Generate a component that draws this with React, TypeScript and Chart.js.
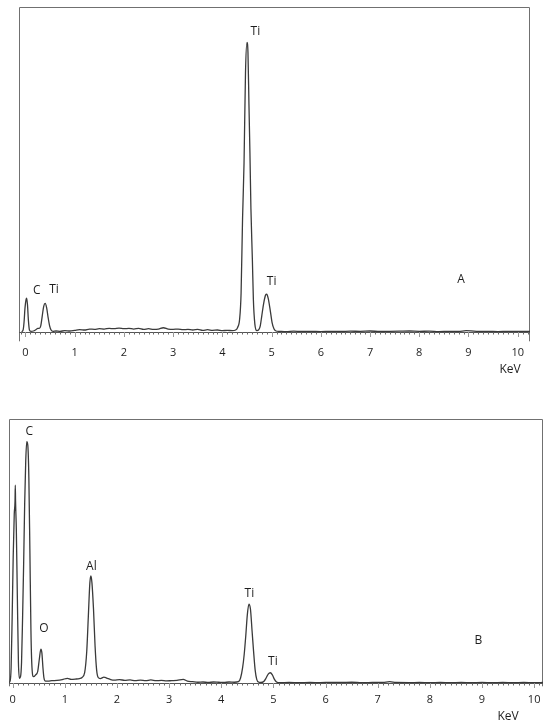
import React, { useEffect, useRef } from "react";
import { Chart, registerables } from "chart.js";

Chart.register(...registerables);

// ---------- DATA ----------
const xTickValues = [0, 1, 2, 3, 4, 5, 6, 7, 8, 9, 10];

// Panel A spectrum: [energy keV, counts (% of full scale)]
const spectrumA: [number, number][] = [
  [-0.08, 0.2], [-0.05, 0.6], [-0.03, 3], [-0.01, 7.5], [0.01, 10], [0.024, 10.5], [0.04, 8.5],
  [0.06, 3.5], [0.08, 0.7], [0.11, 0.3], [0.16, 0.4], [0.21, 0.8], [0.25, 1.2], [0.28, 1.2],
  [0.31, 2.0], [0.34, 5], [0.37, 8], [0.4, 8.9], [0.43, 7.5], [0.46, 4.5], [0.49, 2], [0.52, 0.7],
  [0.56, 0.3], [0.62, 0.4], [0.7, 0.3], [0.8, 0.5], [0.9, 0.4], [1.0, 0.6], [1.1, 0.8], [1.2, 0.7],
  [1.3, 1.0], [1.4, 0.9], [1.5, 1.1], [1.6, 1.0], [1.7, 1.2], [1.8, 1.1], [1.9, 1.3], [2.0, 1.1],
  [2.1, 1.2], [2.2, 1.0], [2.3, 1.2], [2.4, 0.9], [2.5, 1.1], [2.6, 0.9], [2.7, 1.0], [2.8, 1.4],
  [2.9, 1.0], [3.0, 0.9], [3.1, 1.0], [3.2, 0.8], [3.3, 0.9], [3.4, 0.7], [3.5, 0.9], [3.6, 0.6],
  [3.7, 0.8], [3.8, 0.6], [3.9, 0.7], [4.0, 0.5], [4.1, 0.6], [4.2, 0.5], [4.27, 0.7], [4.31, 1.5],
  [4.35, 4], [4.38, 12], [4.41, 35], [4.44, 52], [4.47, 80], [4.5, 89.1], [4.52, 86], [4.54, 70],
  [4.56, 55], [4.58, 38], [4.61, 22], [4.63, 10], [4.66, 2.5], [4.7, 0.5], [4.74, 0.8], [4.77, 2],
  [4.8, 5], [4.84, 9], [4.88, 11.5], [4.9, 11.7], [4.93, 10.5], [4.97, 7], [5.01, 3], [5.05, 1],
  [5.09, 0.4], [5.15, 0.3], [5.3, 0.2], [5.45, 0.35], [5.6, 0.25], [5.8, 0.3], [6.0, 0.2],
  [6.2, 0.3], [6.4, 0.25], [6.6, 0.35], [6.8, 0.3], [7.0, 0.4], [7.2, 0.25], [7.4, 0.3],
  [7.6, 0.35], [7.8, 0.4], [8.0, 0.3], [8.2, 0.35], [8.4, 0.2], [8.6, 0.3], [8.8, 0.25],
  [8.95, 0.5], [9.05, 0.45], [9.2, 0.25], [9.4, 0.3], [9.6, 0.2], [9.8, 0.3], [10.0, 0.25], [10.25, 0.3],
];

// Panel B spectrum: [energy keV, counts (% of full scale)]
const spectrumB: [number, number][] = [
  [-0.07, 0.3], [-0.05, 0.8], [-0.03, 6], [-0.01, 25], [0.01, 48], [0.03, 64], [0.045, 69], [0.05, 75],
  [0.055, 69], [0.07, 58], [0.09, 32], [0.11, 8], [0.13, 1.9], [0.15, 2.5], [0.17, 8], [0.19, 25],
  [0.21, 45], [0.23, 68], [0.25, 84], [0.27, 91.4], [0.29, 90], [0.31, 78], [0.33, 50], [0.35, 20],
  [0.37, 6], [0.4, 2.5], [0.44, 3.2], [0.48, 4.5], [0.51, 9], [0.54, 12.9], [0.56, 11.5], [0.58, 6],
  [0.6, 2], [0.63, 0.8], [0.68, 0.8], [0.75, 1.0], [0.85, 1.1], [0.95, 1.4], [1.05, 1.9], [1.12, 1.5],
  [1.2, 1.6], [1.28, 1.8], [1.33, 2.2], [1.38, 4], [1.42, 12], [1.45, 25], [1.48, 38], [1.5, 40.6],
  [1.52, 38], [1.55, 28], [1.58, 14], [1.61, 5], [1.64, 2.2], [1.68, 1.8], [1.75, 2.3], [1.8, 2.0],
  [1.88, 1.4], [1.95, 1.2], [2.05, 1.4], [2.15, 1.1], [2.25, 1.3], [2.35, 1.0], [2.45, 1.2],
  [2.55, 1.0], [2.65, 1.3], [2.75, 1.0], [2.85, 1.1], [2.95, 0.9], [3.05, 1.0], [3.15, 1.1],
  [3.27, 1.5], [3.35, 0.8], [3.45, 0.6], [3.55, 0.4], [3.65, 0.5], [3.75, 0.3], [3.85, 0.5],
  [3.95, 0.4], [4.05, 0.3], [4.15, 0.5], [4.25, 0.4], [4.33, 0.6], [4.37, 2], [4.41, 6], [4.44, 11],
  [4.47, 18], [4.5, 26], [4.53, 29.9], [4.56, 28], [4.59, 20], [4.62, 12], [4.65, 5], [4.68, 1.5],
  [4.72, 0.4], [4.76, 0.3], [4.82, 0.8], [4.86, 2], [4.9, 3.5], [4.94, 4.0], [4.98, 3.2], [5.02, 1.5],
  [5.06, 0.5], [5.12, 0.2], [5.3, 0.3], [5.5, 0.2], [5.7, 0.3], [5.9, 0.25], [6.1, 0.35], [6.3, 0.3],
  [6.5, 0.4], [6.7, 0.25], [6.9, 0.3], [7.1, 0.35], [7.23, 0.6], [7.35, 0.3], [7.6, 0.25], [7.8, 0.3],
  [8.0, 0.2], [8.2, 0.3], [8.4, 0.25], [8.6, 0.3], [8.8, 0.2], [9.0, 0.3], [9.2, 0.25], [9.4, 0.3],
  [9.6, 0.2], [9.8, 0.3], [10.0, 0.25], [10.17, 0.3],
];

// Element labels: [text, keV, counts]
const labelsA: [string, number, number][] = [
  ["C", 0.23, 12.7],
  ["Ti", 0.58, 13.2],
  ["Ti", 4.67, 92.4],
  ["Ti", 5.0, 15.5],
  ["A", 8.85, 16.3],
];
const labelsB: [string, number, number][] = [
  ["C", 0.32, 95.2],
  ["O", 0.6, 20.8],
  ["Al", 1.51, 44.1],
  ["Ti", 4.54, 34.1],
  ["Ti", 4.99, 8.4],
  ["B", 8.93, 16.1],
];
const axisUnit = "KeV";

// ---------- PANEL LAYOUT ----------
type Panel = {
  data: [number, number][];
  labels: [string, number, number][];
  width: number;
  height: number;
  xMin: number;
  xMax: number;
  padLeft: number;
  padRight: number;
  padTop: number;
  baseline: number;
  tickPad: number;
  borderExt: number;
  unitX: number;
  unitY: number;
};

const FONT = '"Open Sans", "DejaVu Sans", sans-serif';

const framePlugin = {
  id: "edsFrame",
  beforeDatasetsDraw(chart: any, _args: any, opts: any) {
    const { ctx, chartArea } = chart;
    const { left, right, top, bottom } = chartArea;
    const xs = chart.scales.x;
    ctx.save();
    ctx.strokeStyle = "#707070";
    ctx.lineWidth = 1;
    ctx.beginPath();
    ctx.moveTo(Math.round(left) + 0.5, bottom + opts.ext);
    ctx.lineTo(Math.round(left) + 0.5, Math.round(top) + 0.5);
    ctx.lineTo(Math.round(right) - 0.5, Math.round(top) + 0.5);
    ctx.lineTo(Math.round(right) - 0.5, bottom + opts.ext);
    ctx.stroke();
    // axis line
    ctx.strokeStyle = "#555";
    ctx.beginPath();
    ctx.moveTo(left, Math.round(bottom) + 0.5);
    ctx.lineTo(right, Math.round(bottom) + 0.5);
    ctx.stroke();
    // minor / major ticks
    for (let i = -2; i <= 105; i++) {
      const v = i / 10;
      const px = xs.getPixelForValue(v);
      if (px <= left + 1 || px >= right - 1) continue;
      const major = i % 10 === 0;
      ctx.strokeStyle = major ? "#999" : "#666";
      ctx.beginPath();
      ctx.moveTo(Math.round(px) + 0.5, Math.round(bottom));
      ctx.lineTo(Math.round(px) + 0.5, Math.round(bottom) + (major ? 5 : 2.5));
      ctx.stroke();
    }
    ctx.restore();
  },
  afterDatasetsDraw(chart: any, _args: any, opts: any) {
    const { ctx } = chart;
    const xs = chart.scales.x;
    const ys = chart.scales.y;
    ctx.save();
    ctx.fillStyle = "#1e1e1e";
    ctx.font = `12px ${FONT}`;
    ctx.textAlign = "center";
    ctx.textBaseline = "middle";
    for (const [t, x, y] of opts.labels as [string, number, number][]) {
      ctx.fillText(t, xs.getPixelForValue(x), ys.getPixelForValue(y));
    }
    ctx.fillText(axisUnit, opts.unitX, opts.unitY);
    ctx.restore();
  },
};

function Spectrum({ p, top }: { p: Panel; top: number }) {
  const ref = useRef<HTMLCanvasElement | null>(null);
  useEffect(() => {
    if (!ref.current) return;
    const chart = new Chart(ref.current, {
      type: "line",
      data: {
        datasets: [
          {
            data: p.data.map(([x, y]) => ({ x, y })),
            borderColor: "#3a3a3a",
            borderWidth: 1.3,
            pointRadius: 0,
            fill: false,
            cubicInterpolationMode: "monotone",
          },
        ],
      },
      options: {
        responsive: false,
        animation: false,
        devicePixelRatio: 1,
        events: [],
        layout: {
          padding: { left: p.padLeft, right: p.padRight, top: p.padTop, bottom: 0 },
        },
        plugins: {
          legend: { display: false },
          tooltip: { enabled: false },
          title: { display: false },
          edsFrame: {
            labels: p.labels,
            ext: p.borderExt,
            unitX: p.unitX,
            unitY: p.unitY,
          },
        } as any,
        scales: {
          x: {
            type: "linear",
            min: p.xMin,
            max: p.xMax,
            grid: { display: false, drawTicks: false },
            border: { display: false },
            afterBuildTicks: (s: any) => {
              s.ticks = xTickValues.map((v) => ({ value: v }));
            },
            afterFit: (s: any) => {
              s.height = p.height - p.baseline;
            },
            ticks: {
              autoSkip: false,
              maxRotation: 0,
              padding: p.tickPad,
              color: "#1e1e1e",
              font: { family: FONT, size: 11 },
              callback: (v: any) => String(v),
            },
          },
          y: {
            type: "linear",
            min: 0,
            max: 100,
            display: false,
          },
        },
      },
      plugins: [framePlugin],
    } as any);
    return () => chart.destroy();
  }, [p]);
  return (
    <canvas
      ref={ref}
      width={p.width}
      height={p.height}
      style={{ position: "absolute", left: 0, top, width: p.width, height: p.height, display: "block" }}
    />
  );
}

const panelA: Panel = {
  data: spectrumA,
  labels: labelsA,
  width: 550,
  height: 380,
  xMin: -0.132,
  xMax: 10.25,
  padLeft: 19,
  padRight: 20,
  padTop: 7,
  baseline: 332.3,
  tickPad: 13.5,
  borderExt: 9,
  unitX: 510,
  unitY: 370,
};

const panelB: Panel = {
  data: spectrumB,
  labels: labelsB,
  width: 550,
  height: 325,
  xMin: -0.069,
  xMax: 10.17,
  padLeft: 7.5,
  padRight: 5.5,
  padTop: 19,
  baseline: 283.3,
  tickPad: 9.5,
  borderExt: 3,
  unitX: 508,
  unitY: 317,
};

export default function App() {
  return (
    <div style={{ position: "absolute", left: 0, top: 0, width: 550, height: 725, background: "#fff" }}>
      <Spectrum p={panelA} top={0} />
      <Spectrum p={panelB} top={400} />
    </div>
  );
}
